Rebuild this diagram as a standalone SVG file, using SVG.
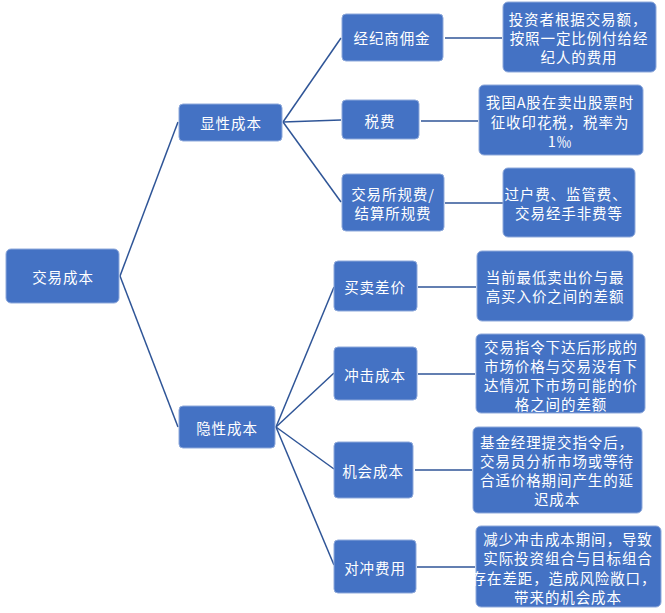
<svg xmlns="http://www.w3.org/2000/svg" width="665" height="613" viewBox="0 0 665 613">
<style>
.n{fill:#4472C4;stroke:#8ea9db;stroke-width:1}
.t{fill:#ffffff;font-family:"Noto Sans CJK SC","Noto Sans",sans-serif;font-size:14.5px;letter-spacing:0.9px;text-anchor:middle;dominant-baseline:central}
.c{stroke:#2F5597;stroke-width:1.5;fill:none}
</style>
<rect width="665" height="613" fill="#ffffff"/>
<g id="connectors">
<line class="c" x1="120" y1="276" x2="178" y2="122"/>
<line class="c" x1="120" y1="276" x2="178" y2="427"/>
<line class="c" x1="283" y1="122" x2="341" y2="38"/>
<line class="c" x1="283" y1="122" x2="341" y2="120"/>
<line class="c" x1="283" y1="122" x2="341" y2="202"/>
<line class="c" x1="445" y1="38" x2="502" y2="38"/>
<line class="c" x1="421" y1="121" x2="478" y2="121"/>
<line class="c" x1="445" y1="203" x2="503" y2="203"/>
<line class="c" x1="276" y1="427" x2="334" y2="287"/>
<line class="c" x1="276" y1="427" x2="334" y2="373"/>
<line class="c" x1="276" y1="427" x2="334" y2="469"/>
<line class="c" x1="276" y1="427" x2="334" y2="565"/>
<line class="c" x1="418" y1="287" x2="476" y2="287"/>
<line class="c" x1="418" y1="374" x2="475" y2="374"/>
<line class="c" x1="415" y1="470" x2="472" y2="470"/>
<line class="c" x1="417" y1="567" x2="475" y2="567"/>
</g>
<g id="root"><rect class="n" x="6" y="249" width="113" height="54" rx="5"/><text class="t" x="63" y="276">交易成本</text></g>
<g id="explicit"><rect class="n" x="179" y="104" width="103" height="37" rx="4"/><text class="t" x="231" y="122">显性成本</text></g>
<g id="implicit"><rect class="n" x="179" y="406" width="96" height="42" rx="4"/><text class="t" x="227" y="427">隐性成本</text></g>
<g id="commission"><rect class="n" x="342" y="14" width="101" height="47" rx="4"/><text class="t" x="392" y="37">经纪商佣金</text></g>
<g id="tax"><rect class="n" x="342" y="100" width="77" height="39" rx="4"/><text class="t" x="380" y="120">税费</text></g>
<g id="exchange"><rect class="n" x="342" y="174" width="102" height="57" rx="4"/><text class="t" x="393" y="193">交易所规费/</text><text class="t" x="393" y="212">结算所规费</text></g>
<g id="commission-desc"><rect class="n" x="503" y="2" width="153" height="70" rx="5"/><text class="t" x="578" y="18.5">投资者根据交易额，</text><text class="t" x="579" y="37.5">按照一定比例付给经</text><text class="t" x="579" y="56.5">纪人的费用</text></g>
<g id="tax-desc"><rect class="n" x="479" y="85" width="164" height="70" rx="5"/><text class="t" x="560" y="101">我国A股在卖出股票时</text><text class="t" x="560" y="121">征收印花税，税率为</text><text class="t" x="560" y="140">1‰</text></g>
<g id="exchange-desc"><rect class="n" x="503" y="168" width="132" height="69" rx="5"/><text class="t" x="566" y="193">过户费、监管费、</text><text class="t" x="569" y="212">交易经手非费等</text></g>
<g id="spread"><rect class="n" x="334" y="261" width="83" height="50" rx="4"/><text class="t" x="375" y="286">买卖差价</text></g>
<g id="impact"><rect class="n" x="334" y="347" width="83" height="53" rx="4"/><text class="t" x="375" y="374">冲击成本</text></g>
<g id="opportunity"><rect class="n" x="334" y="442" width="79" height="56" rx="4"/><text class="t" x="373" y="470">机会成本</text></g>
<g id="hedge"><rect class="n" x="334" y="540" width="82" height="53" rx="4"/><text class="t" x="375" y="567">对冲费用</text></g>
<g id="spread-desc"><rect class="n" x="477" y="251" width="156" height="70" rx="5"/><text class="t" x="555" y="276">当前最低卖出价与最</text><text class="t" x="555" y="295">高买入价之间的差额</text></g>
<g id="impact-desc"><rect class="n" x="476" y="334" width="169" height="79" rx="5"/><text class="t" x="561" y="346">交易指令下达后形成的</text><text class="t" x="561" y="365">市场价格与交易没有下</text><text class="t" x="561" y="384">达情况下市场可能的价</text><text class="t" x="561" y="403">格之间的差额</text></g>
<g id="opportunity-desc"><rect class="n" x="473" y="427" width="169" height="86" rx="5"/><text class="t" x="557" y="441">基金经理提交指令后，</text><text class="t" x="557" y="460.5">交易员分析市场或等待</text><text class="t" x="557" y="479.5">合适价格期间产生的延</text><text class="t" x="557" y="498.5">迟成本</text></g>
<g id="hedge-desc"><rect class="n" x="476" y="526" width="185" height="81" rx="5"/><text class="t" x="568" y="538">减少冲击成本期间，导致</text><text class="t" x="568" y="557">实际投资组合与目标组合</text><text class="t" x="564" y="577">存在差距，造成风险敞口，</text><text class="t" x="568" y="596">带来的机会成本</text></g>
</svg>
